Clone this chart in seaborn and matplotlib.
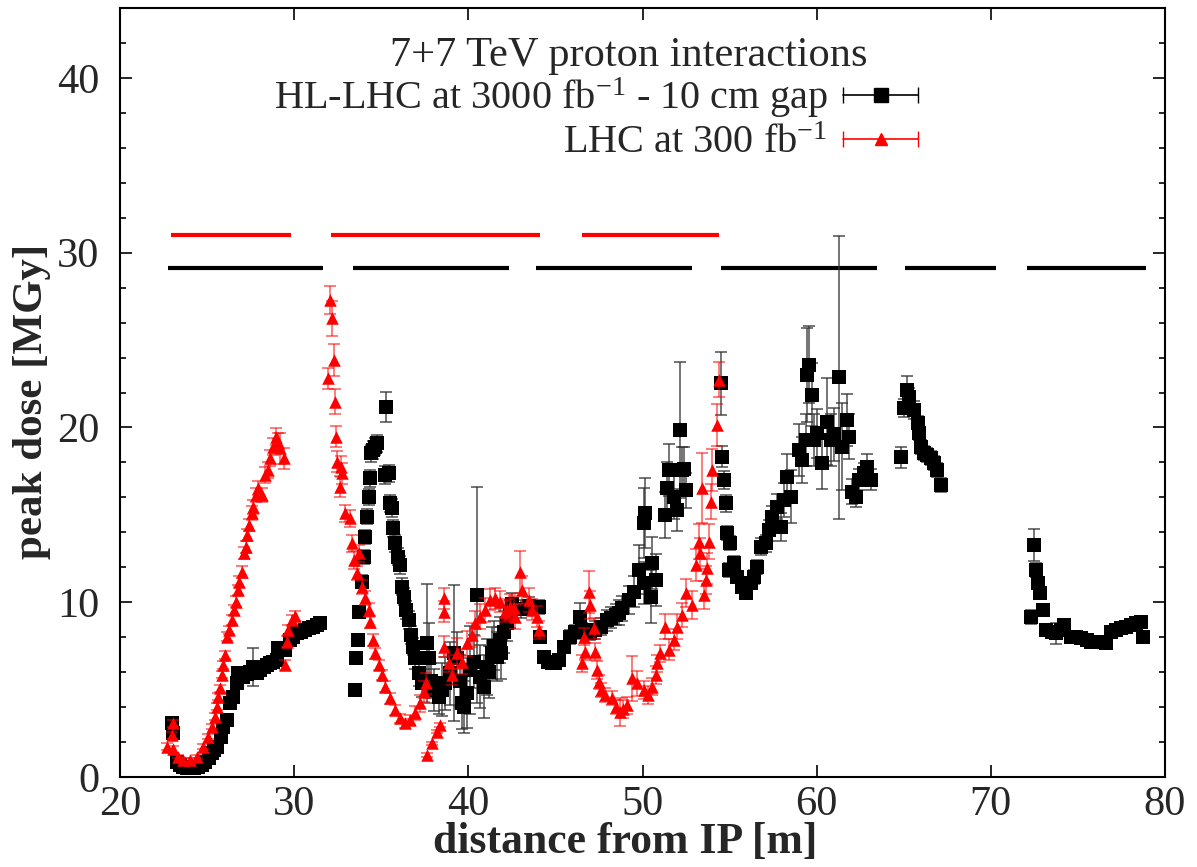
import numpy as np
import pandas as pd
import matplotlib
matplotlib.use("Agg")
import matplotlib.pyplot as plt
import seaborn as sns
from matplotlib.lines import Line2D
from matplotlib.legend_handler import HandlerTuple, HandlerLine2D

# ---------------- data ----------------
black_x = [
    22.97, 23.06, 23.26, 23.45, 23.64, 23.83, 24.02, 24.25, 24.50, 24.70,
    24.89, 25.10, 25.27, 25.42, 25.56, 25.79, 25.94, 26.13, 26.32, 26.51,
    26.71, 26.80, 27.09, 27.28, 27.47, 27.66, 27.86, 28.05, 28.24, 28.43,
    28.62, 28.81, 29.00, 29.10, 29.30, 29.48, 29.77, 29.95, 30.15, 30.40,
    30.63, 30.85, 31.11, 31.30, 31.49,
    33.51, 33.56, 33.64, 33.75, 33.89, 33.99, 34.08, 34.18, 34.27, 34.37,
    34.40, 34.55, 34.66, 34.75, 35.29, 35.23, 35.42, 35.52, 35.61, 35.67,
    35.80, 35.94, 36.05, 36.19, 36.32, 36.44, 36.57, 36.71, 36.82, 36.95,
    37.15, 37.34, 37.62, 37.72, 37.85, 38.01, 38.30, 38.50, 38.68, 38.97,
    39.16, 39.35, 39.50, 39.64, 39.73, 39.93, 40.11, 40.30, 40.50, 40.69,
    40.88, 41.07, 41.20, 41.36, 41.50, 41.65, 41.84, 41.90, 42.03, 42.20,
    42.40, 42.50, 43.00, 43.50, 44.04,
    44.14, 44.33, 44.60, 44.81, 45.00, 45.19, 45.48, 45.86, 46.10, 46.44,
    46.53, 46.80, 47.01, 47.30, 47.59, 47.97, 48.20, 48.45, 48.65, 48.85,
    49.21, 49.50, 49.79, 50.08, 50.08, 50.17, 50.46, 50.56, 50.75, 51.32,
    51.42, 51.51, 51.80, 51.99, 52.18, 52.28, 52.37, 52.47,
    54.48, 54.57, 54.67, 54.77, 54.83, 54.97, 55.05, 55.24, 55.44, 55.73,
    55.92, 56.21, 56.40, 56.59, 56.78, 57.07, 57.26, 57.45, 57.74, 57.93,
    58.12, 58.31, 58.51, 58.98, 59.17, 59.37, 59.46, 59.56, 59.75, 59.85,
    60.04, 60.33, 60.62, 60.80, 61.00, 61.28, 61.47, 61.76, 61.86, 62.05,
    62.24, 62.43, 62.72, 62.91, 63.10,
    64.87, 65.02, 65.21, 65.30, 65.60, 65.79, 65.88, 65.98, 66.17, 66.36,
    66.55, 66.74, 66.93, 67.13,
    72.30, 72.49, 72.59, 72.72, 72.83, 72.97, 73.16, 73.50, 73.74, 74.00,
    74.21, 74.60, 74.90, 75.17, 75.50, 75.75, 76.00, 76.30, 76.61, 76.90,
    77.20, 77.47, 77.75, 78.05, 78.35, 78.62, 78.72,
]
black_y = [
    3.07, 2.50, 0.88, 0.70, 0.59, 0.52, 0.50, 0.52, 0.59, 0.70,
    0.88, 1.10, 1.35, 1.55, 1.73, 2.30, 2.88, 3.26, 4.22, 4.60,
    5.36, 5.93, 5.74, 5.90, 6.03, 6.30, 5.93, 6.10, 6.31, 6.40,
    6.50, 6.60, 6.70, 7.36, 7.30, 7.27, 7.84, 8.00, 8.22, 8.30,
    8.41, 8.50, 8.60, 8.70, 8.79,
    4.98, 6.79, 7.84, 9.46, 11.18, 12.61, 13.75, 14.90, 16.04, 17.09,
    18.52, 18.70, 18.90, 19.09, 21.19, 17.28, 17.38, 15.66, 15.38, 14.23,
    13.37, 12.61, 12.13, 10.89, 10.32, 9.56, 8.98, 8.13, 7.46, 6.79,
    5.93, 5.36, 7.65, 6.80, 5.50, 4.98, 4.60, 5.00, 5.36, 5.93,
    7.08, 6.80, 5.50, 4.22, 4.02, 4.79, 6.12, 6.60, 10.41, 5.74,
    5.17, 6.31, 6.00, 7.08, 7.50, 6.88, 7.84, 7.10, 8.31, 8.80,
    9.30, 9.90, 9.60, 9.80, 9.75,
    8.03, 6.88, 6.60, 6.50, 6.55, 6.70, 7.46, 8.03, 8.30, 9.17,
    8.41, 8.30, 8.22, 8.40, 8.60, 8.98, 9.10, 9.27, 9.40, 9.65,
    10.13, 10.60, 11.85, 11.08, 14.52, 15.09, 10.32, 12.23, 11.27, 14.99,
    16.52, 17.57, 16.04, 15.28, 19.86, 17.57, 17.60, 16.42,
    22.53, 18.33, 17.00, 15.66, 13.95, 11.85, 13.37, 12.23, 11.46, 10.89,
    10.51, 11.08, 11.46, 12.03, 13.18, 13.37, 14.13, 14.90, 15.47, 14.32,
    15.85, 17.19, 16.04, 18.71, 18.14, 19.28, 23.00, 23.58, 21.86, 19.28,
    19.66, 17.95, 20.33, 19.28, 19.60, 22.87, 18.90, 20.43, 19.47, 16.33,
    16.04, 17.00, 17.38, 17.76, 17.00,
    18.30, 21.10, 22.15, 21.76, 21.00, 20.24, 19.70, 18.90, 18.52, 18.43,
    18.24, 17.95, 17.57, 16.71,
    9.17, 13.28, 11.85, 11.08, 10.51, 9.56, 8.41, 8.30, 8.22, 8.40,
    8.70, 8.03, 8.00, 7.94, 7.85, 7.75, 7.70, 7.70, 7.65, 8.31,
    8.40, 8.50, 8.60, 8.70, 8.80, 8.89, 8.03,
]
black_err = [
    0.25, 0.25, 0.15, 0.15, 0.15, 0.15, 0.15, 0.15, 0.15, 0.15,
    0.15, 0.15, 0.15, 0.15, 0.15, 0.20, 0.20, 0.20, 0.25, 0.30,
    0.30, 0.35, 0.30, 0.30, 0.30, 1.10, 0.30, 0.30, 0.30, 0.30,
    0.30, 0.30, 0.30, 0.35, 0.30, 0.30, 0.30, 0.30, 0.30, 0.30,
    0.30, 0.30, 0.30, 0.30, 0.30,
    0.20, 0.30, 0.30, 0.30, 0.35, 0.40, 0.40, 0.45, 0.45, 0.50,
    0.50, 0.50, 0.50, 0.50, 0.85, 0.50, 0.50, 0.50, 0.50, 0.50,
    0.50, 0.50, 0.50, 0.50, 0.50, 0.50, 0.50, 0.50, 0.50, 0.60,
    0.70, 0.80, 3.40, 2.00, 1.00, 1.20, 1.00, 1.50, 1.50, 1.80,
    3.90, 1.50, 1.50, 1.50, 1.50, 2.00, 2.50, 1.50, 6.20, 1.80,
    1.80, 1.60, 1.50, 1.50, 1.40, 1.40, 1.30, 1.50, 1.20, 1.00,
    0.80, 0.60, 0.50, 0.50, 0.40,
    0.30, 0.20, 0.20, 0.20, 0.20, 0.20, 0.30, 0.40, 0.40, 0.80,
    0.40, 0.40, 0.40, 0.50, 0.50, 0.60, 0.60, 0.60, 0.70, 0.70,
    0.80, 0.90, 1.40, 1.20, 2.00, 2.00, 1.50, 1.50, 1.50, 1.30,
    1.50, 1.50, 1.30, 1.20, 3.90, 1.30, 1.30, 1.00,
    1.80, 0.60, 0.50, 0.50, 0.40, 0.40, 0.40, 0.40, 0.30, 0.30,
    0.30, 0.30, 0.40, 0.40, 0.50, 0.50, 0.60, 0.60, 0.70, 0.80,
    1.00, 1.30, 1.50, 1.50, 1.30, 1.50, 2.70, 2.20, 1.80, 1.50,
    1.40, 1.50, 2.50, 1.50, 1.50, 8.10, 2.50, 1.50, 1.30, 0.70,
    0.60, 0.60, 0.60, 0.70, 0.60,
    0.60, 0.50, 0.80, 0.50, 0.50, 0.40, 0.40, 0.40, 0.40, 0.40,
    0.40, 0.40, 0.40, 0.40,
    0.40, 0.90, 0.40, 0.30, 0.30, 0.30, 0.30, 0.30, 0.60, 0.30,
    0.30, 0.20, 0.20, 0.20, 0.20, 0.20, 0.20, 0.20, 0.20, 0.30,
    0.30, 0.30, 0.30, 0.30, 0.30, 0.30, 0.30,
]

red_x = [
    22.68, 22.97, 23.06, 23.06, 23.35, 23.64, 24.02, 24.40, 24.79, 25.07,
    25.27, 25.46, 25.56, 25.65, 25.75, 25.84, 25.90, 26.03, 26.17, 26.28,
    26.42, 26.55, 26.67, 26.80, 26.86, 27.00, 27.13, 27.22, 27.32, 27.41,
    27.57, 27.66, 27.82, 27.95, 28.14, 28.33, 28.52, 28.62, 28.81, 28.97,
    29.10, 29.20, 29.39, 29.48, 29.58, 29.67, 29.87, 30.06,
    31.97, 32.07, 32.17, 32.26, 32.36, 32.41, 32.45, 32.64, 32.68, 32.74,
    32.93, 33.18, 33.31, 33.41, 33.60, 33.70, 33.89, 34.08, 34.27, 34.37,
    34.52, 34.66, 34.85, 35.04, 35.23, 35.52, 35.80, 36.09, 36.38, 36.67,
    36.95, 37.24, 37.43, 37.59, 37.62, 37.91, 38.20, 38.35, 38.58, 38.62,
    38.58, 38.87, 39.06, 39.35, 39.64, 39.93, 40.21, 40.40, 40.69, 40.98,
    41.26, 41.55, 41.84, 42.13, 42.22, 42.41, 42.61, 42.70, 42.99, 43.09,
    43.47, 43.66, 43.95, 44.04,
    46.53, 46.63, 46.72, 46.92, 47.01, 47.20, 47.30, 47.40, 47.49, 47.59,
    47.87, 48.26, 48.50, 48.70, 48.90, 49.10, 49.40, 49.69, 50.08, 50.30,
    50.56, 50.75, 50.84, 51.03, 51.32, 51.51, 51.80, 51.99, 52.28, 52.47,
    52.85, 53.05, 53.24, 53.33, 53.43, 53.52, 53.62, 53.71, 53.81, 53.91,
    54.00, 54.25, 54.39,
]
red_y = [
    1.73, 2.40, 3.07, 1.60, 1.16, 0.97, 0.97, 1.16, 1.73, 2.30,
    2.88, 3.45, 4.02, 4.60, 5.07, 5.84, 6.41, 6.98, 8.03, 8.41,
    8.98, 9.56, 10.03, 10.70, 11.18, 11.75, 12.80, 13.18, 13.85, 14.42,
    15.09, 15.47, 16.14, 16.52, 16.14, 17.28, 17.57, 18.24, 18.90, 19.47,
    19.19, 18.81, 18.24, 6.41, 7.74, 8.41, 8.98, 9.20,
    22.82, 27.30, 26.25, 23.86, 21.48, 19.47, 18.04, 16.61, 17.76, 17.38,
    15.09, 14.80, 13.37, 12.42, 11.66, 12.80, 10.89, 10.23, 9.56, 8.89,
    7.84, 7.08, 6.41, 5.84, 5.17, 4.50, 3.83, 3.36, 3.07, 3.26,
    3.64, 4.22, 4.88, 5.36, 1.26, 1.93, 2.59, 2.98, 10.23, 9.46,
    7.46, 6.50, 5.84, 7.08, 6.60, 7.65, 8.13, 8.79, 9.17, 9.56,
    10.13, 10.23, 10.03, 9.46, 9.56, 9.75, 9.65, 9.17, 11.75, 10.70,
    10.13, 9.56, 9.17, 8.41,
    6.50, 8.03, 7.17, 10.60, 9.84, 8.51, 7.17, 6.12, 5.45, 4.98,
    4.69, 4.50, 4.00, 3.70, 3.90, 4.10, 5.65, 5.36, 4.98, 4.70,
    5.17, 5.84, 6.50, 7.08, 8.60, 7.27, 7.84, 8.60, 9.27, 10.51,
    9.84, 12.13, 13.47, 12.80, 16.52, 10.41, 11.27, 11.94, 13.47, 15.75,
    17.57, 20.14, 22.72,
]
red_err = [
    0.20, 0.20, 0.20, 0.20, 0.10, 0.10, 0.10, 0.10, 0.15, 0.15,
    0.15, 0.20, 0.20, 0.20, 0.20, 0.20, 0.25, 0.25, 0.25, 0.25,
    0.30, 0.30, 0.30, 0.30, 0.30, 0.35, 0.35, 0.35, 0.35, 0.35,
    0.40, 0.40, 0.40, 0.40, 0.40, 0.45, 0.45, 0.45, 0.50, 0.50,
    0.50, 0.90, 0.60, 0.30, 0.30, 0.30, 0.30, 0.30,
    0.60, 0.80, 1.00, 0.90, 0.70, 0.60, 0.60, 0.60, 0.60, 0.60,
    0.50, 0.50, 0.50, 0.50, 0.40, 0.50, 0.40, 0.40, 0.40, 0.35,
    0.35, 0.30, 0.30, 0.30, 0.30, 0.30, 0.30, 0.25, 0.25, 0.30,
    0.40, 0.50, 0.60, 0.60, 0.10, 0.10, 0.10, 0.10, 0.60, 0.60,
    0.60, 0.50, 0.60, 0.90, 0.70, 0.70, 0.70, 0.70, 0.70, 0.70,
    0.60, 0.60, 0.60, 0.60, 0.60, 0.70, 0.70, 0.70, 1.20, 0.80,
    0.70, 0.60, 0.60, 0.50,
    0.50, 0.50, 0.50, 1.20, 0.80, 0.60, 0.50, 0.50, 0.40, 0.40,
    0.40, 0.40, 0.40, 0.80, 0.50, 0.50, 1.30, 0.70, 0.50, 0.50,
    0.50, 0.50, 0.50, 0.50, 0.70, 0.60, 0.60, 0.70, 0.70, 0.80,
    0.80, 0.90, 1.00, 0.90, 2.00, 0.80, 0.80, 0.90, 1.00, 1.00,
    1.20, 1.20, 1.00,
]

# magnet bars
black_bar_start = [22.76, 33.39, 43.90, 54.49, 65.08, 72.09]
black_bar_end = [31.64, 42.33, 52.83, 63.46, 70.31, 78.90]
black_bar_level = 29.15
red_bar_start = [22.91, 32.09, 46.52]
red_bar_end = [29.81, 44.10, 54.38]
red_bar_level = 31.0

title_text = "7+7 TeV proton interactions"
label_black = r"HL-LHC at 3000 fb$^{-1}$ - 10 cm gap"
label_red = r"LHC at 300 fb$^{-1}$"

# ---------------- style ----------------
sns.set_style("ticks")
plt.rcParams["font.family"] = ["Liberation Serif", "DejaVu Serif"]
plt.rcParams["mathtext.fontset"] = "custom"
plt.rcParams["mathtext.rm"] = "Liberation Serif"
plt.rcParams["mathtext.it"] = "Liberation Serif:italic"
plt.rcParams["mathtext.bf"] = "Liberation Serif:bold"

fig = plt.figure(figsize=(11.97, 8.67), dpi=100)
ax = fig.add_axes([120 / 1197, 90 / 867, 1045 / 1197, 769 / 867])

df_k = pd.DataFrame({"x": black_x, "y": black_y, "e": black_err})
df_r = pd.DataFrame({"x": red_x, "y": red_y, "e": red_err})

# bars
ax.hlines([black_bar_level] * len(black_bar_start), black_bar_start, black_bar_end,
          colors="black", linewidth=3, zorder=2)
ax.hlines([red_bar_level] * len(red_bar_start), red_bar_start, red_bar_end,
          colors="#ff0000", linewidth=3, zorder=2)

# black series
ax.errorbar(df_k["x"], df_k["y"], yerr=df_k["e"], fmt="none", ecolor="#333333",
            elinewidth=1.2, capsize=4.3, capthick=1.2, alpha=0.8, zorder=3)
sns.scatterplot(data=df_k, x="x", y="y", marker="s", s=9.7 ** 2, color="black",
                linewidth=0, ax=ax, zorder=4, legend=False)
# red series
ax.errorbar(df_r["x"], df_r["y"], yerr=df_r["e"], fmt="none", ecolor="#ff0000",
            elinewidth=1.2, capsize=4.3, capthick=1.2, alpha=0.6, zorder=5)
sns.scatterplot(data=df_r, x="x", y="y", marker="^", s=9 ** 2, color="#ff0000",
                linewidth=0, ax=ax, zorder=6, legend=False)

ax.set_xlim(20, 80)
ax.set_ylim(0, 44)
ax.set_xticks([20, 30, 40, 50, 60, 70, 80])
ax.set_yticks([0, 10, 20, 30, 40])
ax.set_yticks(np.arange(0, 44.1, 2), minor=True)
ax.tick_params(axis="both", which="major", direction="in", length=8.5, width=1.4,
               top=True, right=True, labelsize=30.5)
ax.tick_params(axis="x", which="major", pad=6)
ax.tick_params(axis="y", which="major", pad=15)
ax.tick_params(axis="y", which="minor", direction="in", length=4.3, width=1.4,
               left=True, right=True)
for sp in ax.spines.values():
    sp.set_linewidth(1.5)
    sp.set_color("black")

ax.set_xlabel("distance from IP [m]", fontsize=31.5, fontweight="bold")
ax.set_ylabel("peak dose [MGy]", fontsize=31, fontweight="bold")
ax.xaxis.set_label_coords((625 - 120) / 1045, -0.058)
ax.yaxis.set_label_coords(-0.066, 0.488)

# key title (gnuplot-style, right-aligned)
ax.text((868 - 120) / 1045, (777 - 66) / 769, title_text, transform=ax.transAxes,
        ha="right", va="baseline", fontsize=30.5)

# legend (gnuplot-like key: text then sample)
cap_k = Line2D([], [], color="black", marker="|", markersize=11, linewidth=1.2)
mk_k = Line2D([], [], color="black", marker="s", markersize=9.7, linestyle="none")
cap_r = Line2D([], [], color="#ff0000", marker="|", markersize=11, linewidth=1.2)
mk_r = Line2D([], [], color="#ff0000", marker="^", markersize=9, linestyle="none")
leg = ax.legend([(cap_k, mk_k), (cap_r, mk_r)], [label_black, label_red],
                fontsize=29,
                markerfirst=False, frameon=False, loc="upper right",
                bbox_to_anchor=((918 - 120) / 1045, (777 - 76) / 769),
                borderpad=0, borderaxespad=0, handlelength=1.85, handletextpad=0.4,
                labelspacing=0.1, numpoints=1,
                handler_map={tuple: HandlerTuple(ndivide=1, pad=0),
                             cap_k: HandlerLine2D(numpoints=2, marker_pad=0),
                             cap_r: HandlerLine2D(numpoints=2, marker_pad=0)})
leg._legend_box.align = "right"

fig.savefig("out.png", dpi=100)
